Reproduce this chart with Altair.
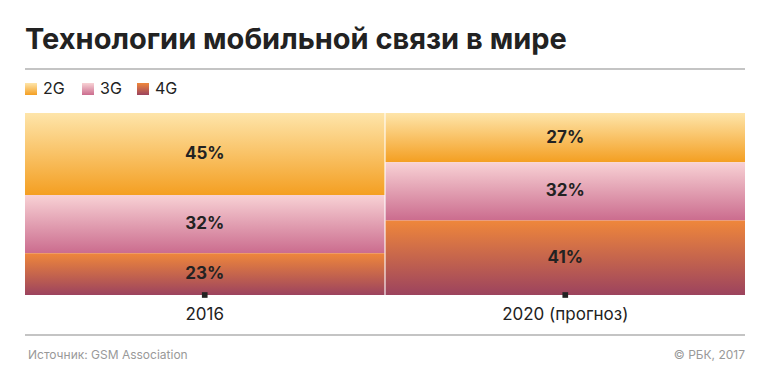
import altair as alt
import pandas as pd

# ---- data ----
years = ["2016", "2020 (прогноз)"]
techs = ["2G", "3G", "4G"]
share_2g = [45, 27]
share_3g = [32, 32]
share_4g = [23, 41]

title_text = "Технологии мобильной связи в мире"
source_text = "Источник: GSM Association"
credit_text = "© РБК, 2017"

# gradient colours (top -> bottom) per technology
grad_top = {"2G": "#FEE5AA", "3G": "#F8D2D5", "4G": "#EF873B"}
grad_bottom = {"2G": "#F49F22", "3G": "#CB6C8E", "4G": "#9C435E"}

rows = []
for i, y in enumerate(years):
    for order, (t, vals) in enumerate(zip(techs, [share_2g, share_3g, share_4g])):
        rows.append({"year": y, "tech": t, "value": vals[i], "order": order})
df = pd.DataFrame(rows)

FONT = "Inter"
W, H = 720, 182


def grad(t):
    return alt.LinearGradient(
        gradient="linear",
        stops=[alt.GradientStop(color=grad_top[t], offset=0),
               alt.GradientStop(color=grad_bottom[t], offset=1)],
        x1=0, x2=0, y1=0, y2=1,
    )


xenc = alt.X("year:N", sort=years,
             scale=alt.Scale(paddingInner=0.003, paddingOuter=0),
             axis=alt.Axis(title=None, labelAngle=0, domain=False, ticks=False,
                           labelFont=FONT, labelFontSize=17, labelColor="#222",
                           labelPadding=11))
yscale = alt.Scale(domain=[0, 100], nice=False)

base = alt.Chart(df).transform_stack(
    stack="value", groupby=["year"], as_=["y0", "y1"],
    sort=[alt.SortField("order", order="descending")],
)

layers = []
for t in techs:
    layers.append(
        base.transform_filter(alt.datum.tech == t)
        .mark_bar(color=grad(t))
        .encode(x=xenc,
                y=alt.Y("y0:Q", scale=yscale, axis=None),
                y2="y1:Q")
    )

labels = base.transform_calculate(
    mid="(datum.y0 + datum.y1) / 2",
    lab="datum.value + '%'",
).mark_text(font=FONT, fontSize=17, fontWeight="bold", color="#222").encode(
    x=alt.X("year:N", sort=years), y=alt.Y("mid:Q", scale=yscale), text="lab:N"
)

tick_df = pd.DataFrame({"year": years})
ticks = alt.Chart(tick_df).mark_square(size=32, color="#222", opacity=1).encode(
    x=alt.X("year:N", sort=years), y=alt.datum(0)
)

one = pd.DataFrame({"k": [0]})

top_rule = alt.Chart(one).mark_rule(color="#b0b0b0", strokeWidth=1.5).encode(
    x=alt.value(0), x2=alt.value(W), y=alt.value(-44))
bottom_rule = alt.Chart(one).mark_rule(color="#b0b0b0", strokeWidth=1.5).encode(
    x=alt.value(0), x2=alt.value(W), y=alt.value(H + 40))

legend_x = [0, 57, 112]
legend_layers = []
for t, lx in zip(techs, legend_x):
    legend_layers.append(
        alt.Chart(one).mark_rect(color=grad(t)).encode(
            x=alt.value(lx), x2=alt.value(lx + 12),
            y=alt.value(-30), y2=alt.value(-18))
    )
    legend_layers.append(
        alt.Chart(one).mark_text(text=t, font=FONT, fontSize=16, color="#222",
                                 align="left", baseline="middle").encode(
            x=alt.value(lx + 18), y=alt.value(-24))
    )

source = alt.Chart(one).mark_text(text=source_text, font=FONT, fontSize=12,
                                  color="#999", align="left",
                                  baseline="middle").encode(
    x=alt.value(3), y=alt.value(H + 60))
credit = alt.Chart(one).mark_text(text=credit_text, font=FONT, fontSize=12,
                                  color="#999", align="right",
                                  baseline="middle").encode(
    x=alt.value(W), y=alt.value(H + 60))

chart = alt.layer(
    *layers, labels, ticks, top_rule, bottom_rule, *legend_layers, source, credit
).properties(
    width=W, height=H,
    title=alt.TitleParams(title_text, anchor="start", frame="group",
                          font=FONT, fontSize=29, fontWeight="bold",
                          color="#222", offset=13),
    autosize=alt.AutoSizeParams(type="none"),
    padding={"left": 17, "top": 105, "right": 10, "bottom": 70},
).configure_view(stroke=None)

chart.save("out.html", embed_options={"renderer": "svg", "actions": False})
